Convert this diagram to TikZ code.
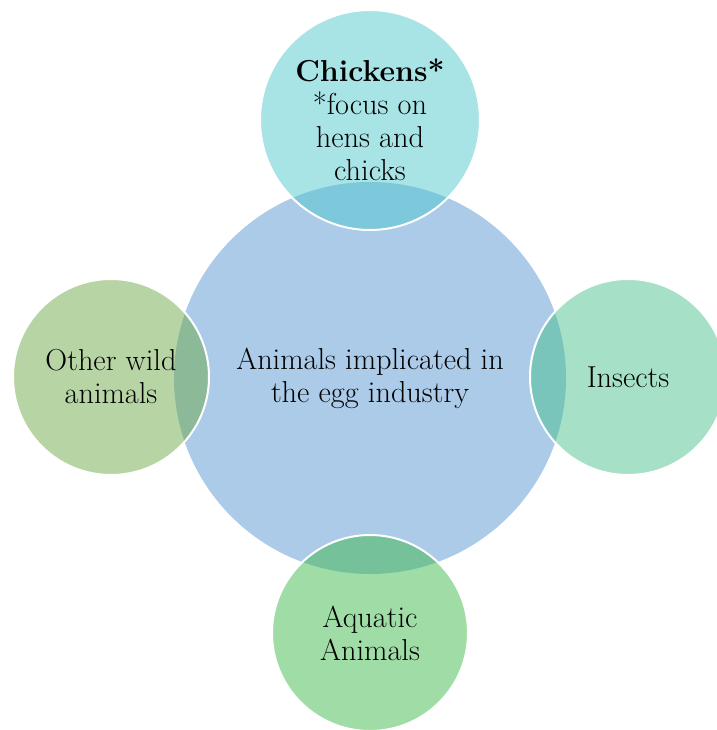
\documentclass[tikz,border=0pt]{standalone}
\usepackage{fontspec}
\definecolor{cblue}{RGB}{171,203,232}
\definecolor{cteal}{RGB}{81,199,205}
\definecolor{cleft}{RGB}{111,171,73}
\definecolor{cright}{RGB}{75,193,143}
\definecolor{cbottom}{RGB}{65,187,77}
\tikzset{
  lbl/.style={align=center, text=black, font=\fontsize{30.3}{33}\selectfont},
  hub/.style={lbl, circle, fill=cblue, minimum size=392pt, inner sep=0pt},
  sat/.style={lbl, circle, fill=#1, fill opacity=0.5, text opacity=1,
              draw=white, line width=2pt, inner sep=0pt, minimum size=196pt}
}
\begin{document}
\begin{tikzpicture}[x=1pt,y=-1pt]
  \useasboundingbox (0,0) rectangle (716,730);
  \node[hub] (hub) at (370,378) {Animals implicated in\\the egg industry};
  \node[sat=cteal, minimum size=220pt] (top) at (370,120)
       {\textbf{Chickens*}\\{}*focus on\\hens and\\chicks};
  \node[sat=cleft] (left) at (111,377) {Other wild\\animals};
  \node[sat=cright] (right) at (628,377) {Insects};
  \node[sat=cbottom] (bottom) at (370,633) {Aquatic\\Animals};
\end{tikzpicture}
\end{document}
